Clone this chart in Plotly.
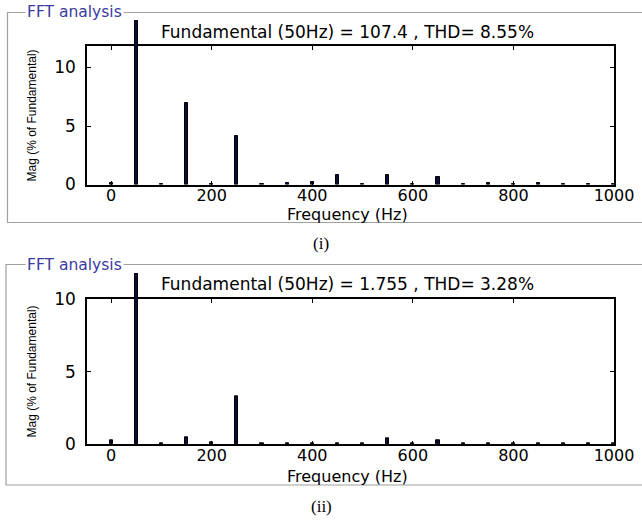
import plotly.graph_objects as go

freqs = [0, 50, 100, 150, 200, 250, 300, 350, 400, 450, 500, 550, 600, 650, 700, 750, 800, 850, 900, 950, 1000]
mag_i = [0.15, 100, 0.05, 7.0, 0.05, 4.15, 0.05, 0.1, 0.2, 0.8, 0.05, 0.85, 0.05, 0.6, 0.05, 0.1, 0.05, 0.1, 0.05, 0.05, 0.05]
mag_ii = [0.25, 100, 0.05, 0.5, 0.12, 3.3, 0.05, 0.1, 0.05, 0.1, 0.05, 0.42, 0.05, 0.25, 0.05, 0.05, 0.05, 0.05, 0.05, 0.05, 0.05]
fundamental = 50
titles = ["Fundamental (50Hz) = 107.4 , THD= 8.55%", "Fundamental (50Hz) = 1.755 , THD= 3.28%"]
captions = ["(i)", "(ii)"]
xticks = [0, 200, 400, 600, 800, 1000]

W, H = 642, 522
def px(x):
    return x / W
def py(y):
    return 1 - y / H

FONT = "DejaVu Sans"
BAR_FILL = "#0c0c38"

# pixel geometry of the two panels
panels = [
    dict(mags=mag_i, top=46, bottom=184.5, over_top=20, yrange=11.84, ppu=11.7,
         frame=(7.5, 12.5, 222.5), title_y=32, xt_y=215, yt_y=116, cap_y=244, fft_y=12.5, yticks=[0, 5, 10]),
    dict(mags=mag_ii, top=299.3, bottom=444.3, over_top=273, yrange=10.0, ppu=14.5,
         frame=(6, 264.5, 485), title_y=284, xt_y=476.5, yt_y=372, cap_y=506, fft_y=264.5, yticks=[0, 5, 10]),
]

fig = go.Figure()
xdom = [px(87), px(614)]
xr = [-48, 1000]
layout = dict(width=W, height=H, margin=dict(l=0, r=0, t=0, b=0, autoexpand=False),
              template="none",
              paper_bgcolor="white", plot_bgcolor="rgba(0,0,0,0)",
              showlegend=False, bargap=0, shapes=[], annotations=[])

for i, p in enumerate(panels):
    n_main = 2 * i + 1
    n_over = 2 * i + 2
    xm = "x" if n_main == 1 else f"x{n_main}"
    ym = "y" if n_main == 1 else f"y{n_main}"
    xo, yo = f"x{n_over}", f"y{n_over}"
    fx = [f for f in freqs if f != fundamental]
    fy = [m for f, m in zip(freqs, p["mags"]) if f != fundamental]
    fig.add_trace(go.Bar(x=fx, y=fy, width=6, xaxis=xm, yaxis=ym,
                         marker=dict(color=BAR_FILL, line=dict(color="black", width=1))))
    fig.add_trace(go.Bar(x=[fundamental], y=[p["mags"][freqs.index(fundamental)]], width=6,
                         xaxis=xo, yaxis=yo,
                         marker=dict(color=BAR_FILL, line=dict(color="black", width=1))))
    ydom = [py(p["bottom"]), py(p["top"])]
    over_range = (p["bottom"] - p["over_top"]) / p["ppu"]
    axkey_xm = "xaxis" if n_main == 1 else f"xaxis{n_main}"
    axkey_ym = "yaxis" if n_main == 1 else f"yaxis{n_main}"
    layout[axkey_xm] = dict(domain=xdom, range=xr, anchor=ym, tickvals=xticks, automargin=False,
                            ticks="inside", ticklen=4, tickcolor="black", showline=True,
                            linecolor="black", linewidth=1.5, mirror="ticks", showgrid=False,
                            zeroline=False, tickfont=dict(family=FONT, size=16, color="black"),
                            ticklabelstandoff=-4)
    layout[axkey_ym] = dict(domain=ydom, range=[0, p["yrange"]], anchor=xm, tickvals=p["yticks"],
                            automargin=False,
                            ticks="inside", ticklen=4, tickcolor="black", showline=True,
                            linecolor="black", linewidth=1.5, mirror="ticks", showgrid=False,
                            zeroline=False, tickfont=dict(family=FONT, size=17, color="black"),
                            ticklabelstandoff=6)
    layout[f"xaxis{n_over}"] = dict(domain=xdom, range=xr, anchor=yo, visible=False, automargin=False)
    layout[f"yaxis{n_over}"] = dict(domain=[py(p["bottom"]), py(p["over_top"])], automargin=False,
                                    range=[0, over_range], anchor=xo, visible=False)
    fl, ft, fb = p["frame"]
    layout["shapes"].append(dict(type="rect", xref="paper", yref="paper",
                                 x0=px(fl), x1=px(660), y0=py(fb), y1=py(ft),
                                 line=dict(color="#a0a0a0", width=1.2), layer="below"))
    layout["annotations"] += [
        dict(text="FFT analysis", x=px(25), y=py(p["fft_y"]), xref="paper", yref="paper",
             xanchor="left", yanchor="middle", showarrow=False, bgcolor="white", borderpad=1,
             font=dict(family=FONT, size=15.5, color="#3a3aa0")),
        dict(text=titles[i], x=px(347), y=py(p["title_y"]), xref="paper", yref="paper",
             xanchor="center", yanchor="middle", showarrow=False,
             font=dict(family=FONT, size=17, color="black")),
        dict(text="Frequency (Hz)", x=px(347.5), y=py(p["xt_y"]), xref="paper", yref="paper",
             xanchor="center", yanchor="middle", showarrow=False,
             font=dict(family=FONT, size=16, color="black")),
        dict(text="Mag (% of Fundamental)", x=px(31.5), y=py(p["yt_y"]), xref="paper", yref="paper",
             xanchor="center", yanchor="middle", showarrow=False, textangle=-90,
             font=dict(family="Liberation Sans", size=12, color="black")),
        dict(text=captions[i], x=px(321), y=py(p["cap_y"]), xref="paper", yref="paper",
             xanchor="center", yanchor="middle", showarrow=False,
             font=dict(family="Liberation Serif", size=17, color="black")),
    ]

fig.update_layout(**layout)
fig.write_html("out.html")
